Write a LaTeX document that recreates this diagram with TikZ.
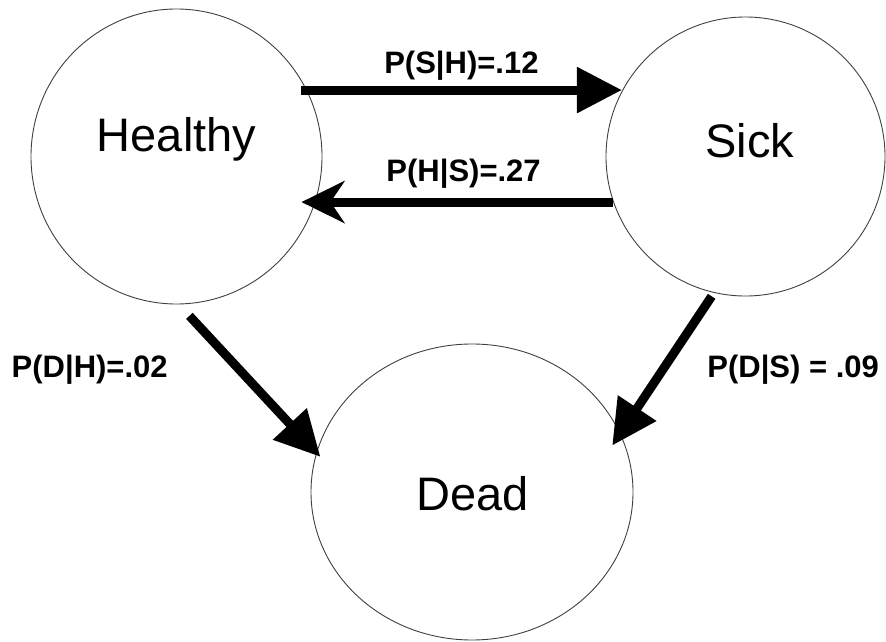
\documentclass[tikz,border=0pt]{standalone}
\usepackage{fontspec}
\setmainfont{Liberation Sans}
\usetikzlibrary{arrows.meta,positioning,shapes.geometric}

\begin{document}
\begin{tikzpicture}[
  x=1pt, y=-1pt,
  state/.style={draw=black!75, line width=0.9pt, ellipse, inner sep=0pt},
  statename/.style={font=\fontsize{47}{56}\selectfont, inner sep=0pt, anchor=base},
  prob/.style={font=\fontsize{31}{37}\selectfont\bfseries, inner sep=0pt},
  arrow/.style={line width=9pt, -{Triangle[length=45pt, width=44pt]}},
  backarrow/.style={line width=9pt, -{Stealth[length=43pt, width=42pt, inset=14pt]}}
]
\useasboundingbox (0,0) rectangle (886,642);

\node[state, minimum width=291pt, minimum height=295pt] (healthy) at (176.5,156.5) {};
\node[state, minimum width=279pt, minimum height=279pt] (sick) at (745.5,156.5) {};
\node[state, minimum width=322pt, minimum height=296pt] (dead) at (472,492) {};

\node[statename] (healthyname) at (176.5,151) {Healthy};
\node[statename] (sickname) at (750,157) {Sick};
\node[statename] (deadname) at (472.5,510) {Dead};

\draw[arrow] ([xshift=-6pt]healthy.27) -- node[prob, above=5pt] (shlabel) {P(S|H)=.12} (healthy.27 -| sick.152);
\draw[backarrow] (sick.199) -- node[prob, above=9pt, pos=0.48] (hslabel) {P(H|S)=.27} ([xshift=-14pt]healthy.-18 |- sick.199);
\draw[arrow] ([yshift=-12pt]healthy.275) -- node[prob, pos=0.38, left=67pt] (dhlabel) {P(D|H)=.02} ([xshift=5pt, yshift=-1pt]dead.167);
\draw[arrow] ([yshift=-4pt]sick.256) -- node[prob, pos=0.49, right=40pt] (dslabel) {P(D|S) = .09} ([xshift=-12pt, yshift=-3pt]dead.18);
\end{tikzpicture}
\end{document}
